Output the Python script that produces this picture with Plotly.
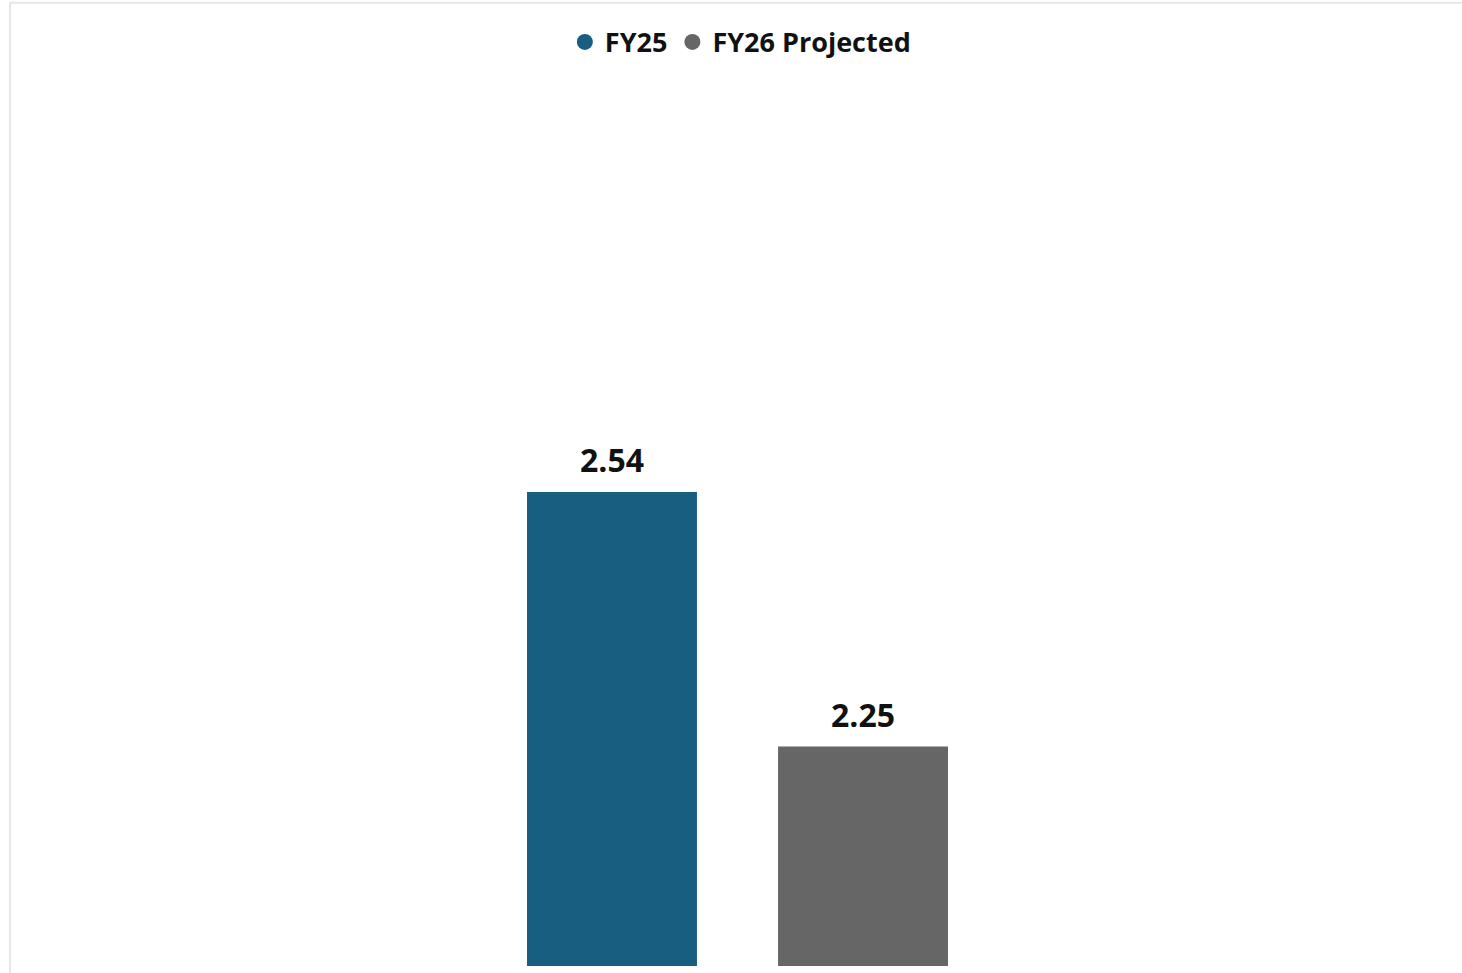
import plotly.graph_objects as go

categories = ["FY25", "FY26 Projected"]
values = [2.54, 2.25]
labels = ["2.54", "2.25"]
colors = ["#175E80", "#666666"]

fig = go.Figure()

for cat, val, lab, col in zip(categories, values, labels, colors):
    fig.add_trace(go.Bar(
        x=[cat], y=[val],
        marker=dict(color=col, line=dict(width=0)),
        showlegend=False, name=cat,
    ))
    # circle markers for the legend
    fig.add_trace(go.Scatter(
        x=[None], y=[None], mode="markers", name=cat,
        marker=dict(symbol="circle", size=16, color=col),
    ))
    # value label above the bar
    fig.add_annotation(x=cat, y=val, text=lab, showarrow=False,
                       yanchor="bottom", yshift=9,
                       font=dict(size=32, color="#111111", family="Open Sans", weight="bold"))

fig.add_shape(type="rect", xref="paper", yref="paper",
              x0=0.0, x1=1.2, y0=-0.2, y1=1.097,
              line=dict(color="#E6E6E6", width=2), fillcolor="rgba(0,0,0,0)")

fig.update_layout(
    width=1462, height=973,
    margin=dict(l=10, r=0, t=88, b=7),
    paper_bgcolor="white", plot_bgcolor="white",
    barmode="overlay", bargap=0.323,
    showlegend=True,
    legend=dict(orientation="h", x=0.503, xanchor="center", y=1.052, yanchor="middle",
                font=dict(size=27, color="#111111", family="Open Sans", weight="bold"),
                itemwidth=30, traceorder="normal"),
    xaxis=dict(range=[-2.398, 3.386], visible=False, showgrid=False),
    yaxis=dict(range=[2.0, 3.0], visible=False, showgrid=False),
)

fig.write_html("out.html", config={"displayModeBar": False},
               post_script="document.body.style.margin='0';")
